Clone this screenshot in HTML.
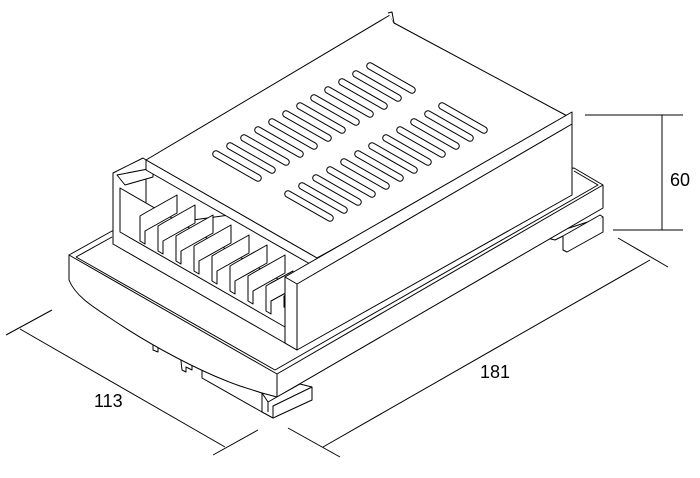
<!DOCTYPE html>
<html><head><style>
html,body{margin:0;padding:0;background:#fff;}
svg{display:block;}
text{font-family:"Liberation Sans",Arial,sans-serif;font-size:18px;fill:#000;}
</style></head><body>
<svg width="700" height="478" viewBox="0 0 700 478" xmlns="http://www.w3.org/2000/svg">
<g fill="#fff" stroke="#000" stroke-width="1" stroke-linejoin="round">
<!-- bottom clips -->
<path d="M153,342 L158,339 L180,350 L180,354 L158,344 L158,352 L153,350 Z"/>
<path d="M180,352 L186,355 L186,362 L192,365 L192,370 L186,367 L186,372 L182,370 Z"/>
<path d="M202,362 L202,378 L262,412 L262,393 L240,385 L208,370 L208,364 Z"/>
<!-- back right rail clip -->
<path d="M547,238 L563,230 L603,217 L603,232 L567,252 L563,250 L563,236 L555,240 Z"/>
<path d="M563,236 L600,215 L603,217"/>
<!-- tray -->
<path d="M69,255 L112,231 L574,168 L603,185 L603,208 L277,397 L262,393 L240,386 C200,372 150,345 110,318 C90,305 75,295 69,280 Z"/>
<path d="M69,255 L277,374 L603,185"/>
<path d="M277,374 L277,397"/>
<path d="M76,257 L112,237" fill="none"/>
<path d="M76,257 L275,370 L598,185 L574,171" fill="none"/>
<!-- front rail clip -->
<path d="M262,393 L262,412 L273,418 L312,400 L312,387 L300,384 L268,402 Z"/>
<path d="M268,402 L268,412 M273,418 L273,406 L312,387"/>
<!-- cover: top face -->
<path d="M146,160 L390,15 L394,23 L571,118 L317,258 Z"/>
<path d="M388,13 L392,12 L394,23"/>
<!-- left wall -->
<path d="M113,173 L143,158 L146,160 L146,244 L113,244 Z"/>
<path d="M113,173 L113,244 L297,350 L297,290 L120,188 L120,232 L285,327"/>
<path d="M117,175 L153,168 L153,177 L125,185 Z"/>
<!-- interior back wall -->
<path d="M146,170 L317,268 L317,258 L146,160 Z"/>
<!-- terminals -->
<g>
<path d="M140,216 L145,213 L177,195 L177,213 L145,231 L145,244 L140,241 Z"/>
<path d="M158,226 L163,223 L195,205 L195,223 L163,241 L163,254 L158,251 Z"/>
<path d="M176,236 L181,233 L213,215 L213,233 L181,251 L181,264 L176,261 Z"/>
<path d="M194,246 L199,243 L231,225 L231,243 L199,261 L199,274 L194,271 Z"/>
<path d="M212,256 L217,253 L249,235 L249,253 L217,271 L217,284 L212,281 Z"/>
<path d="M230,266 L235,263 L267,245 L267,263 L235,281 L235,294 L230,291 Z"/>
<path d="M248,276 L253,273 L285,255 L285,273 L253,291 L253,304 L248,301 Z"/>
<path d="M266,286 L271,283 L293,271 L293,289 L271,301 L271,314 L266,311 Z"/>
<path d="M284,296 L289,293 L293,291 L293,330 L289,328 L289,310 L284,307 Z"/>
</g>
<!-- right wall -->
<path d="M285,277 L297,270 L572,112 L572,195 L297,350 L285,343 Z"/>
<path d="M285,277 L297,284 L572,124" fill="none"/>
<path d="M297,284 L297,350"/>
</g>
<!-- slots -->
<g stroke-linecap="round" fill="none">
<g stroke="#000" stroke-width="7.5">
<path d="M216,154l42,24M230,146l42,24M244,138l42,24M258,130l42,24M272,122l42,24M286,114l42,24M300,106l42,24M314,98l42,24M328,90l42,24M342,82l42,24M356,74l42,24M370,66l42,24"/>
<path d="M288,194l42,24M302,186l42,24M316,178l42,24M330,170l42,24M344,162l42,24M358,154l42,24M372,146l42,24M386,138l42,24M400,130l42,24M414,122l42,24M428,114l42,24M442,106l42,24"/>
</g>
<g stroke="#fff" stroke-width="5.5">
<path d="M216,154l42,24M230,146l42,24M244,138l42,24M258,130l42,24M272,122l42,24M286,114l42,24M300,106l42,24M314,98l42,24M328,90l42,24M342,82l42,24M356,74l42,24M370,66l42,24"/>
<path d="M288,194l42,24M302,186l42,24M316,178l42,24M330,170l42,24M344,162l42,24M358,154l42,24M372,146l42,24M386,138l42,24M400,130l42,24M414,122l42,24M428,114l42,24M442,106l42,24"/>
</g>
</g>
<!-- dimensions -->
<g stroke="#000" stroke-width="1" fill="none">
<path d="M585,115 L683,115 M613,230 L683,230 M662,115 L662,230"/>
<path d="M6,335 L52,310 M213,455 L258,430 M20,329 L225,447"/>
<path d="M288,428 L340,457 M618,238 L668,267 M323,447 L650,260"/>
</g>
<text x="670" y="186">60</text>
<text x="480" y="378">181</text>
<text x="94" y="407">113</text>
</svg>
</body></html>
